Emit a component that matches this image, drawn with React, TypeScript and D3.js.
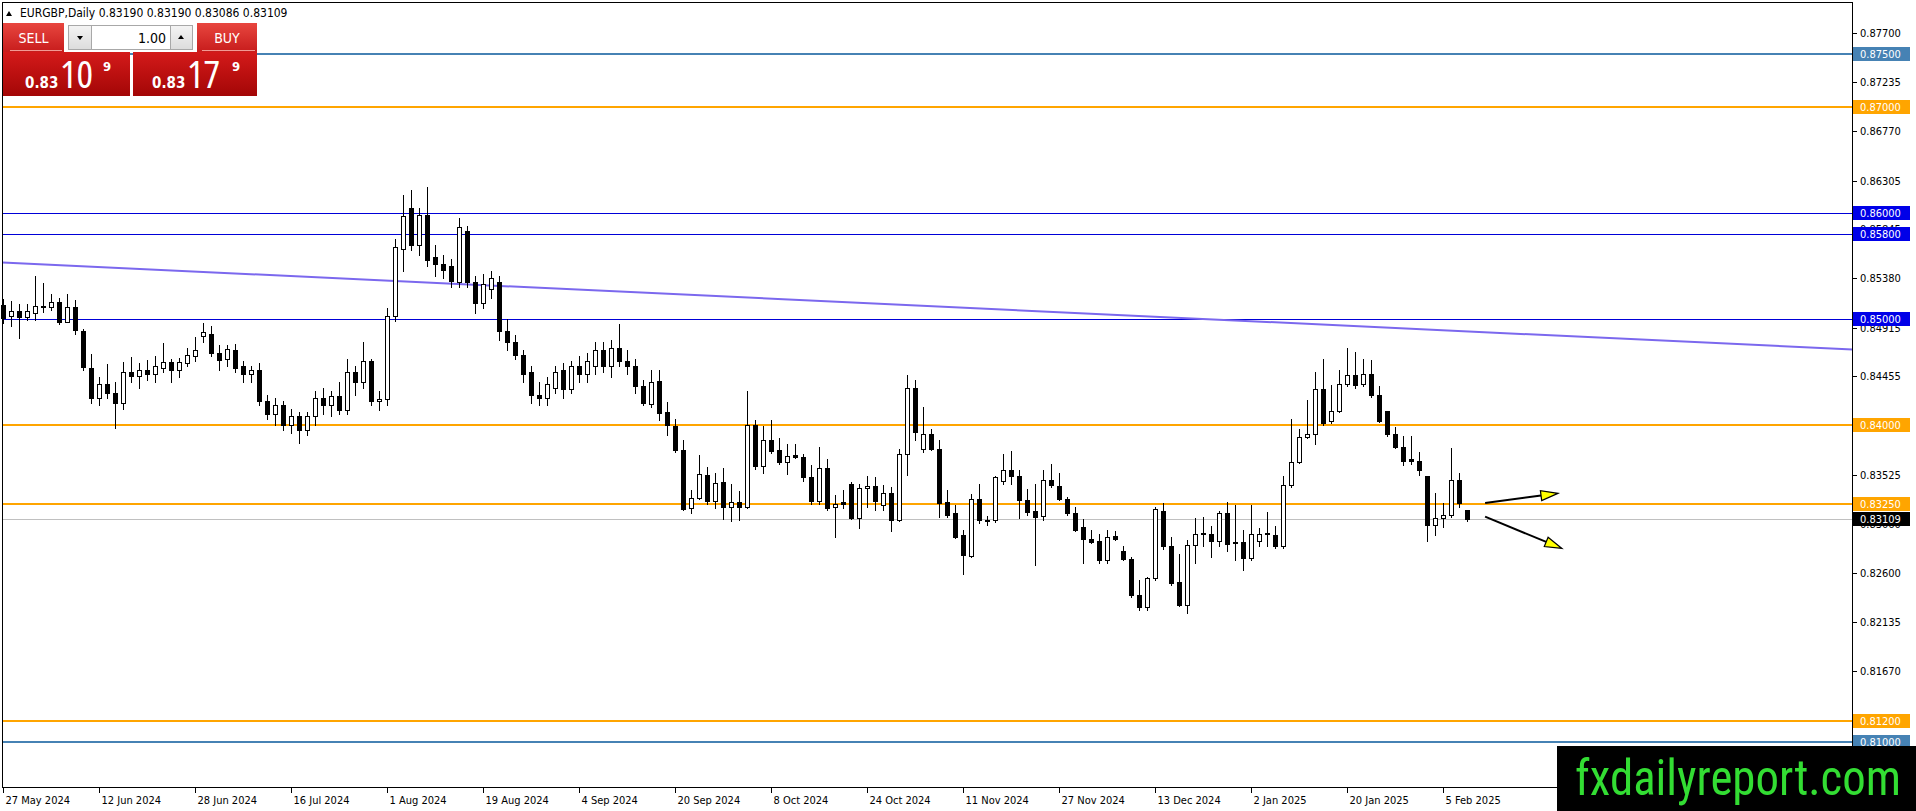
import React from "react";
import * as d3 from "d3";

const W = 1916;
const H = 811;

// daily bars, [open, high, low, close], 27 May 2024 .. 10 Feb 2025
const ohlc: [number, number, number, number][] = [
  [0.8513, 0.8519, 0.8496, 0.8501], [0.8503, 0.8517, 0.8493, 0.8507], [0.8507, 0.8514, 0.8482, 0.8502],
  [0.8502, 0.8514, 0.8499, 0.8507], [0.8505, 0.854, 0.8499, 0.8512], [0.8512, 0.8534, 0.8506, 0.8511],
  [0.8511, 0.8523, 0.8508, 0.8516], [0.8516, 0.852, 0.8495, 0.8497], [0.8497, 0.8523, 0.8497, 0.8511],
  [0.8511, 0.8518, 0.8486, 0.8489], [0.8488, 0.849, 0.8452, 0.8454], [0.8453, 0.8467, 0.842, 0.8425],
  [0.8425, 0.8445, 0.8418, 0.8438], [0.8438, 0.8457, 0.8425, 0.843], [0.843, 0.844, 0.8397, 0.842],
  [0.842, 0.8459, 0.8415, 0.845], [0.845, 0.8464, 0.844, 0.8446], [0.8446, 0.8458, 0.8435, 0.8452],
  [0.8452, 0.8461, 0.8442, 0.8448], [0.8448, 0.8465, 0.844, 0.8455], [0.8453, 0.8477, 0.845, 0.8459],
  [0.8459, 0.8462, 0.844, 0.8452], [0.8452, 0.8463, 0.8445, 0.8459], [0.8458, 0.8472, 0.8455, 0.8466],
  [0.8465, 0.8483, 0.846, 0.847], [0.8484, 0.8496, 0.8478, 0.8487], [0.8486, 0.8493, 0.8465, 0.8468],
  [0.8468, 0.8475, 0.8452, 0.8461], [0.8462, 0.8475, 0.8455, 0.8471], [0.847, 0.8476, 0.845, 0.8453],
  [0.8455, 0.846, 0.844, 0.8448], [0.8448, 0.8455, 0.844, 0.8452], [0.8452, 0.8458, 0.8418, 0.8422],
  [0.8422, 0.8428, 0.8405, 0.841], [0.841, 0.8425, 0.84, 0.8418], [0.8418, 0.8422, 0.8395, 0.84],
  [0.84, 0.8415, 0.8392, 0.8408], [0.8408, 0.8412, 0.8383, 0.8395], [0.8395, 0.8412, 0.839, 0.8408],
  [0.8408, 0.8432, 0.84, 0.8425], [0.8425, 0.8435, 0.841, 0.8418], [0.8418, 0.8432, 0.8408, 0.8427],
  [0.8427, 0.844, 0.841, 0.8414], [0.8414, 0.8462, 0.841, 0.845], [0.845, 0.8455, 0.8428, 0.844],
  [0.844, 0.8478, 0.8435, 0.846], [0.846, 0.8462, 0.8418, 0.8422], [0.8422, 0.8432, 0.8414, 0.8424],
  [0.8424, 0.851, 0.8418, 0.8503], [0.8503, 0.8575, 0.8498, 0.8568], [0.8566, 0.8617, 0.8545, 0.8597],
  [0.8605, 0.8622, 0.8565, 0.857], [0.857, 0.8605, 0.856, 0.8598], [0.8598, 0.8624, 0.855, 0.8555],
  [0.8558, 0.857, 0.854, 0.8552], [0.8552, 0.856, 0.8538, 0.8546], [0.855, 0.8556, 0.853, 0.8536],
  [0.8535, 0.8595, 0.853, 0.8587], [0.8583, 0.8588, 0.853, 0.8535], [0.8535, 0.854, 0.8505, 0.8515],
  [0.8515, 0.8542, 0.851, 0.8533], [0.8528, 0.8545, 0.852, 0.8538], [0.8535, 0.854, 0.848, 0.8488],
  [0.8488, 0.85, 0.847, 0.8478], [0.8478, 0.8485, 0.8462, 0.8466], [0.8466, 0.847, 0.844, 0.8448],
  [0.845, 0.8455, 0.842, 0.8428], [0.8428, 0.844, 0.8418, 0.8425], [0.8425, 0.8445, 0.8418, 0.8438],
  [0.8435, 0.8455, 0.843, 0.845], [0.8452, 0.8458, 0.8425, 0.8434], [0.8434, 0.846, 0.843, 0.8455],
  [0.8455, 0.8465, 0.844, 0.8448], [0.8448, 0.8468, 0.844, 0.846], [0.8455, 0.8478, 0.8448, 0.847],
  [0.847, 0.8478, 0.845, 0.8455], [0.8455, 0.848, 0.8445, 0.8472], [0.8472, 0.8495, 0.8455, 0.846],
  [0.846, 0.847, 0.8448, 0.8455], [0.8455, 0.8462, 0.843, 0.8436], [0.8436, 0.8442, 0.8418, 0.842],
  [0.8419, 0.8452, 0.8417, 0.844], [0.8441, 0.8452, 0.8404, 0.8411], [0.8412, 0.8421, 0.839, 0.84],
  [0.8399, 0.8405, 0.8374, 0.8376], [0.8376, 0.8385, 0.8319, 0.832], [0.8321, 0.8338, 0.8316, 0.8331],
  [0.8331, 0.8371, 0.833, 0.8353], [0.8352, 0.836, 0.8325, 0.8328], [0.8328, 0.8354, 0.8321, 0.8345],
  [0.8346, 0.8359, 0.8311, 0.8322], [0.8322, 0.8344, 0.8309, 0.8327], [0.8327, 0.8337, 0.831, 0.8322],
  [0.8322, 0.8432, 0.8321, 0.84], [0.84, 0.8404, 0.8358, 0.8361], [0.8361, 0.8399, 0.8354, 0.8385],
  [0.8385, 0.8404, 0.8373, 0.8375], [0.8376, 0.8387, 0.8363, 0.8365], [0.8365, 0.8382, 0.8353, 0.837],
  [0.8371, 0.8382, 0.8368, 0.8369], [0.8369, 0.8372, 0.8347, 0.835], [0.835, 0.8362, 0.8325, 0.8328],
  [0.8328, 0.8379, 0.8325, 0.8359], [0.8359, 0.8367, 0.8319, 0.8321], [0.8322, 0.8333, 0.8294, 0.8325],
  [0.8327, 0.8338, 0.8321, 0.8325], [0.8344, 0.8346, 0.8311, 0.8312], [0.8312, 0.8344, 0.8302, 0.834],
  [0.834, 0.8351, 0.8322, 0.8342], [0.8342, 0.835, 0.8319, 0.8328], [0.8324, 0.8343, 0.8319, 0.8335],
  [0.8335, 0.8341, 0.8299, 0.831], [0.831, 0.8377, 0.8309, 0.8372], [0.8372, 0.8447, 0.8352, 0.8435],
  [0.8435, 0.8442, 0.8385, 0.8393], [0.8377, 0.8417, 0.8374, 0.8391], [0.8391, 0.8396, 0.8376, 0.8377],
  [0.8377, 0.8385, 0.8313, 0.8326], [0.8327, 0.8338, 0.8313, 0.8315], [0.8316, 0.8324, 0.8293, 0.8294],
  [0.8296, 0.83, 0.8259, 0.8277], [0.8276, 0.8334, 0.8275, 0.833], [0.833, 0.8344, 0.8307, 0.831],
  [0.831, 0.8314, 0.8305, 0.8309], [0.831, 0.8351, 0.8308, 0.835], [0.8347, 0.8372, 0.8344, 0.8357],
  [0.8357, 0.8375, 0.8344, 0.8351], [0.8351, 0.8357, 0.8312, 0.8329], [0.8329, 0.8339, 0.8315, 0.8317],
  [0.8318, 0.8344, 0.8267, 0.8313], [0.8314, 0.8357, 0.831, 0.8348], [0.8348, 0.8363, 0.8341, 0.8343],
  [0.8342, 0.8354, 0.8329, 0.833], [0.833, 0.8332, 0.8315, 0.8316], [0.8316, 0.8322, 0.8299, 0.83],
  [0.8303, 0.8311, 0.8269, 0.8292], [0.8292, 0.83, 0.8288, 0.8289], [0.829, 0.8297, 0.8269, 0.8272],
  [0.8272, 0.83, 0.8269, 0.8294], [0.8295, 0.8299, 0.8291, 0.8292], [0.8281, 0.8285, 0.8272, 0.8273],
  [0.8273, 0.8275, 0.8237, 0.8239], [0.8239, 0.8253, 0.8225, 0.8228], [0.8228, 0.8256, 0.8225, 0.8255],
  [0.8255, 0.8322, 0.8253, 0.832], [0.8318, 0.8326, 0.8282, 0.8285], [0.8285, 0.8294, 0.8248, 0.825],
  [0.8251, 0.8278, 0.8229, 0.823], [0.823, 0.8291, 0.8222, 0.8286], [0.8286, 0.8312, 0.8269, 0.8297],
  [0.8297, 0.8313, 0.8285, 0.8298], [0.8297, 0.8304, 0.8275, 0.829], [0.829, 0.8318, 0.8285, 0.8316],
  [0.8316, 0.8327, 0.8281, 0.8287], [0.8289, 0.8324, 0.8272, 0.8288], [0.8289, 0.83, 0.8263, 0.8274],
  [0.8274, 0.8324, 0.8272, 0.8297], [0.829, 0.8302, 0.8285, 0.8297], [0.8297, 0.8317, 0.8285, 0.8298],
  [0.8296, 0.8304, 0.8283, 0.8285], [0.8285, 0.8351, 0.8283, 0.8343], [0.8343, 0.8405, 0.8341, 0.8365],
  [0.8365, 0.8396, 0.8364, 0.8388], [0.8388, 0.8423, 0.8387, 0.8391], [0.8391, 0.845, 0.8382, 0.8434],
  [0.8434, 0.8462, 0.84, 0.8401], [0.8403, 0.8437, 0.8401, 0.8413], [0.8413, 0.8452, 0.8412, 0.8438],
  [0.8438, 0.8472, 0.8436, 0.8447], [0.8447, 0.8469, 0.8435, 0.8437], [0.8438, 0.8462, 0.8436, 0.8448],
  [0.8448, 0.8461, 0.8426, 0.8428], [0.8428, 0.8436, 0.8402, 0.8403], [0.8413, 0.8413, 0.8389, 0.8391],
  [0.8391, 0.8398, 0.8378, 0.8379], [0.8379, 0.8389, 0.8362, 0.8366], [0.8367, 0.8389, 0.8363, 0.8366],
  [0.8366, 0.8374, 0.8352, 0.8357], [0.8351, 0.8351, 0.829, 0.8305], [0.8305, 0.8335, 0.8296, 0.8312],
  [0.8312, 0.8326, 0.8303, 0.8315], [0.8315, 0.8378, 0.8313, 0.8348], [0.8348, 0.8354, 0.8322, 0.8326],
  [0.8319, 0.8319, 0.83086, 0.83109],
];

// one label every 12 bars
const dateLabels = [
  "27 May 2024", "12 Jun 2024", "28 Jun 2024", "16 Jul 2024", "1 Aug 2024", "19 Aug 2024",
  "4 Sep 2024", "20 Sep 2024", "8 Oct 2024", "24 Oct 2024", "11 Nov 2024", "27 Nov 2024",
  "13 Dec 2024", "2 Jan 2025", "20 Jan 2025", "5 Feb 2025",
];
const labelEvery = 12;

const priceTicks = [
  0.877, 0.87235, 0.8677, 0.86305, 0.85845, 0.8538, 0.84915, 0.84455,
  0.8399, 0.83525, 0.8306, 0.826, 0.82135, 0.8167, 0.81205,
];

const steelLevels = [0.875, 0.81];
const orangeLevels = [0.87, 0.84, 0.8325, 0.812];
const blueLevels = [0.86, 0.858, 0.85];
const lastPrice = 0.83109;
const titleValues = ["0.83190", "0.83190", "0.83086", "0.83109"];

// trend line anchors [bar, price]
const trendAnchors: [number, number][] = [[0, 0.8553], [183, 0.8488]];
// arrows [barFrom, priceFrom, barTo, priceTo]
const arrowSpecs: [number, number, number, number][] = [
  [185.2, 0.8326, 194.3, 0.8335],
  [185.2, 0.8313, 194.8, 0.8283],
];

const FONT = "'DejaVu Sans Condensed', 'DejaVu Sans', sans-serif";

const plotL = 2.5;
const plotT = 2.5;
const plotR = 1852.5;
const plotB = 787.5;

const x = d3.scaleLinear().domain([0, 183]).range([3.5, 1467.5]);
const y = d3.scaleLinear().domain([0.875, 0.812]).range([54, 721]);

const py = (p: number) => Math.round(y(p)) + 0.5;
const fmt = d3.format(".5f");

const levelLine = (p: number, color: string, w: number, key: string) => (
  <line
    key={key}
    x1={plotL}
    x2={plotR}
    y1={w === 2 ? Math.round(y(p)) : py(p)}
    y2={w === 2 ? Math.round(y(p)) : py(p)}
    stroke={color}
    strokeWidth={w}
  />
);

const levelLabel = (p: number, bg: string, key: string) => (
  <g key={key}>
    <rect x={1853} y={Math.round(y(p)) - 7} width={57} height={14} fill={bg} />
    <text x={1860} y={Math.round(y(p)) + 4} fill="#fff" fontSize={11}>
      {fmt(p)}
    </text>
  </g>
);

const App: React.FC = () => {
  const trendSlope = (trendAnchors[1][1] - trendAnchors[0][1]) / (trendAnchors[1][0] - trendAnchors[0][0]);
  const trendAt = (b: number) => trendAnchors[0][1] + (b - trendAnchors[0][0]) * trendSlope;
  const bL = x.invert(plotL);
  const bR = x.invert(plotR);

  const arrows = arrowSpecs.map(([b0, p0, b1, p1], i) => {
    const sx = x(b0), sy = y(p0), tx = x(b1), ty = y(p1);
    const len = Math.hypot(tx - sx, ty - sy);
    const ux = (tx - sx) / len, uy = (ty - sy) / len;
    const bx = tx - ux * 17, by = ty - uy * 17;
    const nx = -uy * 5, ny = ux * 5;
    return (
      <g key={`arrow${i}`}>
        <line x1={sx} y1={sy} x2={bx} y2={by} stroke="#000" strokeWidth={2} />
        <polygon
          points={`${tx},${ty} ${bx + nx},${by + ny} ${bx - nx},${by - ny}`}
          fill="#ffff00"
          stroke="#000"
          strokeWidth={1.2}
          strokeLinejoin="miter"
        />
      </g>
    );
  });

  return (
    <svg
      width={W}
      height={H}
      viewBox={`0 0 ${W} ${H}`}
      style={{ position: "absolute", left: 0, top: 0, display: "block", background: "#fff" }}
      fontFamily={FONT}
      fontStretch="condensed"
    >
      <defs>
        <linearGradient id="btnRed" x1="0" y1="0" x2="0" y2="1">
          <stop offset="0" stopColor="#e8463f" />
          <stop offset="1" stopColor="#c71c1c" />
        </linearGradient>
        <linearGradient id="priceRed" x1="0" y1="0" x2="0" y2="1">
          <stop offset="0" stopColor="#d41a1a" />
          <stop offset="1" stopColor="#a30606" />
        </linearGradient>
        <linearGradient id="btnGrey" x1="0" y1="0" x2="0" y2="1">
          <stop offset="0" stopColor="#f4f4f4" />
          <stop offset="1" stopColor="#dcdcdc" />
        </linearGradient>
        <clipPath id="plotClip">
          <rect x={plotL} y={plotT} width={plotR - plotL} height={plotB - plotT} />
        </clipPath>
      </defs>

      <rect x={0} y={0} width={W} height={H} fill="#fff" />

      <g clipPath="url(#plotClip)" shapeRendering="crispEdges">
        {blueLevels.map((p, i) => levelLine(p, "#0000d8", 1, `bl${i}`))}
        {orangeLevels.map((p, i) => levelLine(p, "#ffa500", 2, `ol${i}`))}
        {steelLevels.map((p, i) => levelLine(p, "#4682b4", 2, `sl${i}`))}
        <line x1={plotL} x2={plotR} y1={py(lastPrice)} y2={py(lastPrice)} stroke="#c0c0c0" strokeWidth={1} />
      </g>

      <g clipPath="url(#plotClip)">
        <line
          x1={x(bL)}
          y1={y(trendAt(bL))}
          x2={x(bR)}
          y2={y(trendAt(bR))}
          stroke="#7b68ee"
          strokeWidth={2}
        />
      </g>

      <g shapeRendering="crispEdges">
        {ohlc.map(([o, h, l, c], i) => {
          const cx = x(i);
          const top = Math.round(y(Math.max(o, c)));
          const bot = Math.round(y(Math.min(o, c)));
          const up = c > o;
          return (
            <g key={i}>
              <line x1={cx} x2={cx} y1={Math.round(y(h))} y2={Math.round(y(l)) + 1} stroke="#000" />
              {up ? (
                <rect
                  x={cx - 2}
                  y={top + 0.5}
                  width={4}
                  height={Math.max(1, bot - top)}
                  fill="#fff"
                  stroke="#000"
                  strokeWidth={1}
                />
              ) : (
                <rect x={cx - 2.5} y={top} width={5} height={Math.max(1, bot - top + 1)} fill="#000" />
              )}
            </g>
          );
        })}
      </g>

      {arrows}

      {/* frame and axes */}
      <g shapeRendering="crispEdges" stroke="#000" fill="none">
        <rect x={plotL} y={plotT} width={plotR - plotL} height={plotB - plotT} />
        {priceTicks.map((p, i) => (
          <line key={`yt${i}`} x1={plotR} x2={plotR + 4} y1={py(p)} y2={py(p)} />
        ))}
        {dateLabels.map((d, i) => (
          <line key={`xt${i}`} x1={x(i * labelEvery)} x2={x(i * labelEvery)} y1={plotB} y2={plotB + 5} />
        ))}
        {[...blueLevels, ...orangeLevels, ...steelLevels, lastPrice].map((p, i) => (
          <line key={`lt${i}`} x1={plotR} x2={plotR + 3} y1={py(p)} y2={py(p)} />
        ))}
      </g>

      <g fontSize={11} fill="#000">
        {priceTicks.map((p, i) => (
          <text key={`yl${i}`} x={1860} y={Math.round(y(p)) + 4}>
            {fmt(p)}
          </text>
        ))}
        {dateLabels.map((d, i) => (
          <text key={`xl${i}`} x={x(i * labelEvery) + 2} y={804}>
            {d}
          </text>
        ))}
      </g>

      {steelLevels.map((p, i) => levelLabel(p, "#4682b4", `sLab${i}`))}
      {orangeLevels.map((p, i) => levelLabel(p, "#ffa500", `oLab${i}`))}
      {blueLevels.map((p, i) => levelLabel(p, "#0000e8", `bLab${i}`))}
      {levelLabel(lastPrice, "#000", "lastLab")}

      {/* title */}
      <polygon points="6,16 12,16 9,11" fill="#000" />
      <text x={20} y={17} fontSize={12} fill="#000">
        {`EURGBP,Daily  ${titleValues.join(" ")}`}
      </text>

      {/* one click trading panel */}
      <g>
        <rect x={3} y={23} width={61} height={29} fill="url(#btnRed)" />
        <line x1={10} x2={62} y1={50.5} y2={50.5} stroke="#f29a94" strokeWidth={1} />
        <text x={33.5} y={43} fontSize={14} fill="#fff" textAnchor="middle">SELL</text>

        <rect x={68.5} y={25.5} width={23} height={24} fill="url(#btnGrey)" stroke="#a8a8a8" />
        <polygon points="77,36 83,36 80,40" fill="#000" />
        <rect x={91.5} y={25.5} width={79} height={24} fill="#fff" stroke="#a8a8a8" />
        <text x={166} y={43} fontSize={14} fill="#000" textAnchor="end">1.00</text>
        <rect x={170.5} y={25.5} width={22} height={24} fill="url(#btnGrey)" stroke="#a8a8a8" />
        <polygon points="178,39 184,39 181,35" fill="#000" />

        <rect x={197} y={23} width={60} height={29} fill="url(#btnRed)" />
        <line x1={202} x2={255} y1={50.5} y2={50.5} stroke="#f29a94" strokeWidth={1} />
        <text x={227} y={43} fontSize={14} fill="#fff" textAnchor="middle">BUY</text>

        <rect x={3} y={52} width={127} height={44} fill="url(#priceRed)" />
        <rect x={133} y={52} width={124} height={44} fill="url(#priceRed)" />

        <g fill="#fff">
          <text x={25} y={88} fontSize={15} fontWeight="bold">0.83</text>
          <text x={60} y={88} fontSize={39} fontFamily="'Open Sans', sans-serif">10</text>
          <text x={103} y={71} fontSize={13} fontWeight="bold">9</text>
          <text x={152} y={88} fontSize={15} fontWeight="bold">0.83</text>
          <text x={187} y={88} fontSize={39} fontFamily="'Open Sans', sans-serif">17</text>
          <text x={232} y={71} fontSize={13} fontWeight="bold">9</text>
        </g>
      </g>

      {/* watermark */}
      <rect x={1557} y={746} width={W - 1557} height={H - 746} fill="#000" />
      <text
        x={1575}
        y={795}
        fontSize={50}
        fill="#33dd33"
        fontFamily="'Liberation Sans Narrow', 'Roboto', sans-serif"
        fontStretch="condensed"
        textLength={326}
        lengthAdjust="spacingAndGlyphs"
      >
        fxdailyreport.com
      </text>
    </svg>
  );
};

export default App;
